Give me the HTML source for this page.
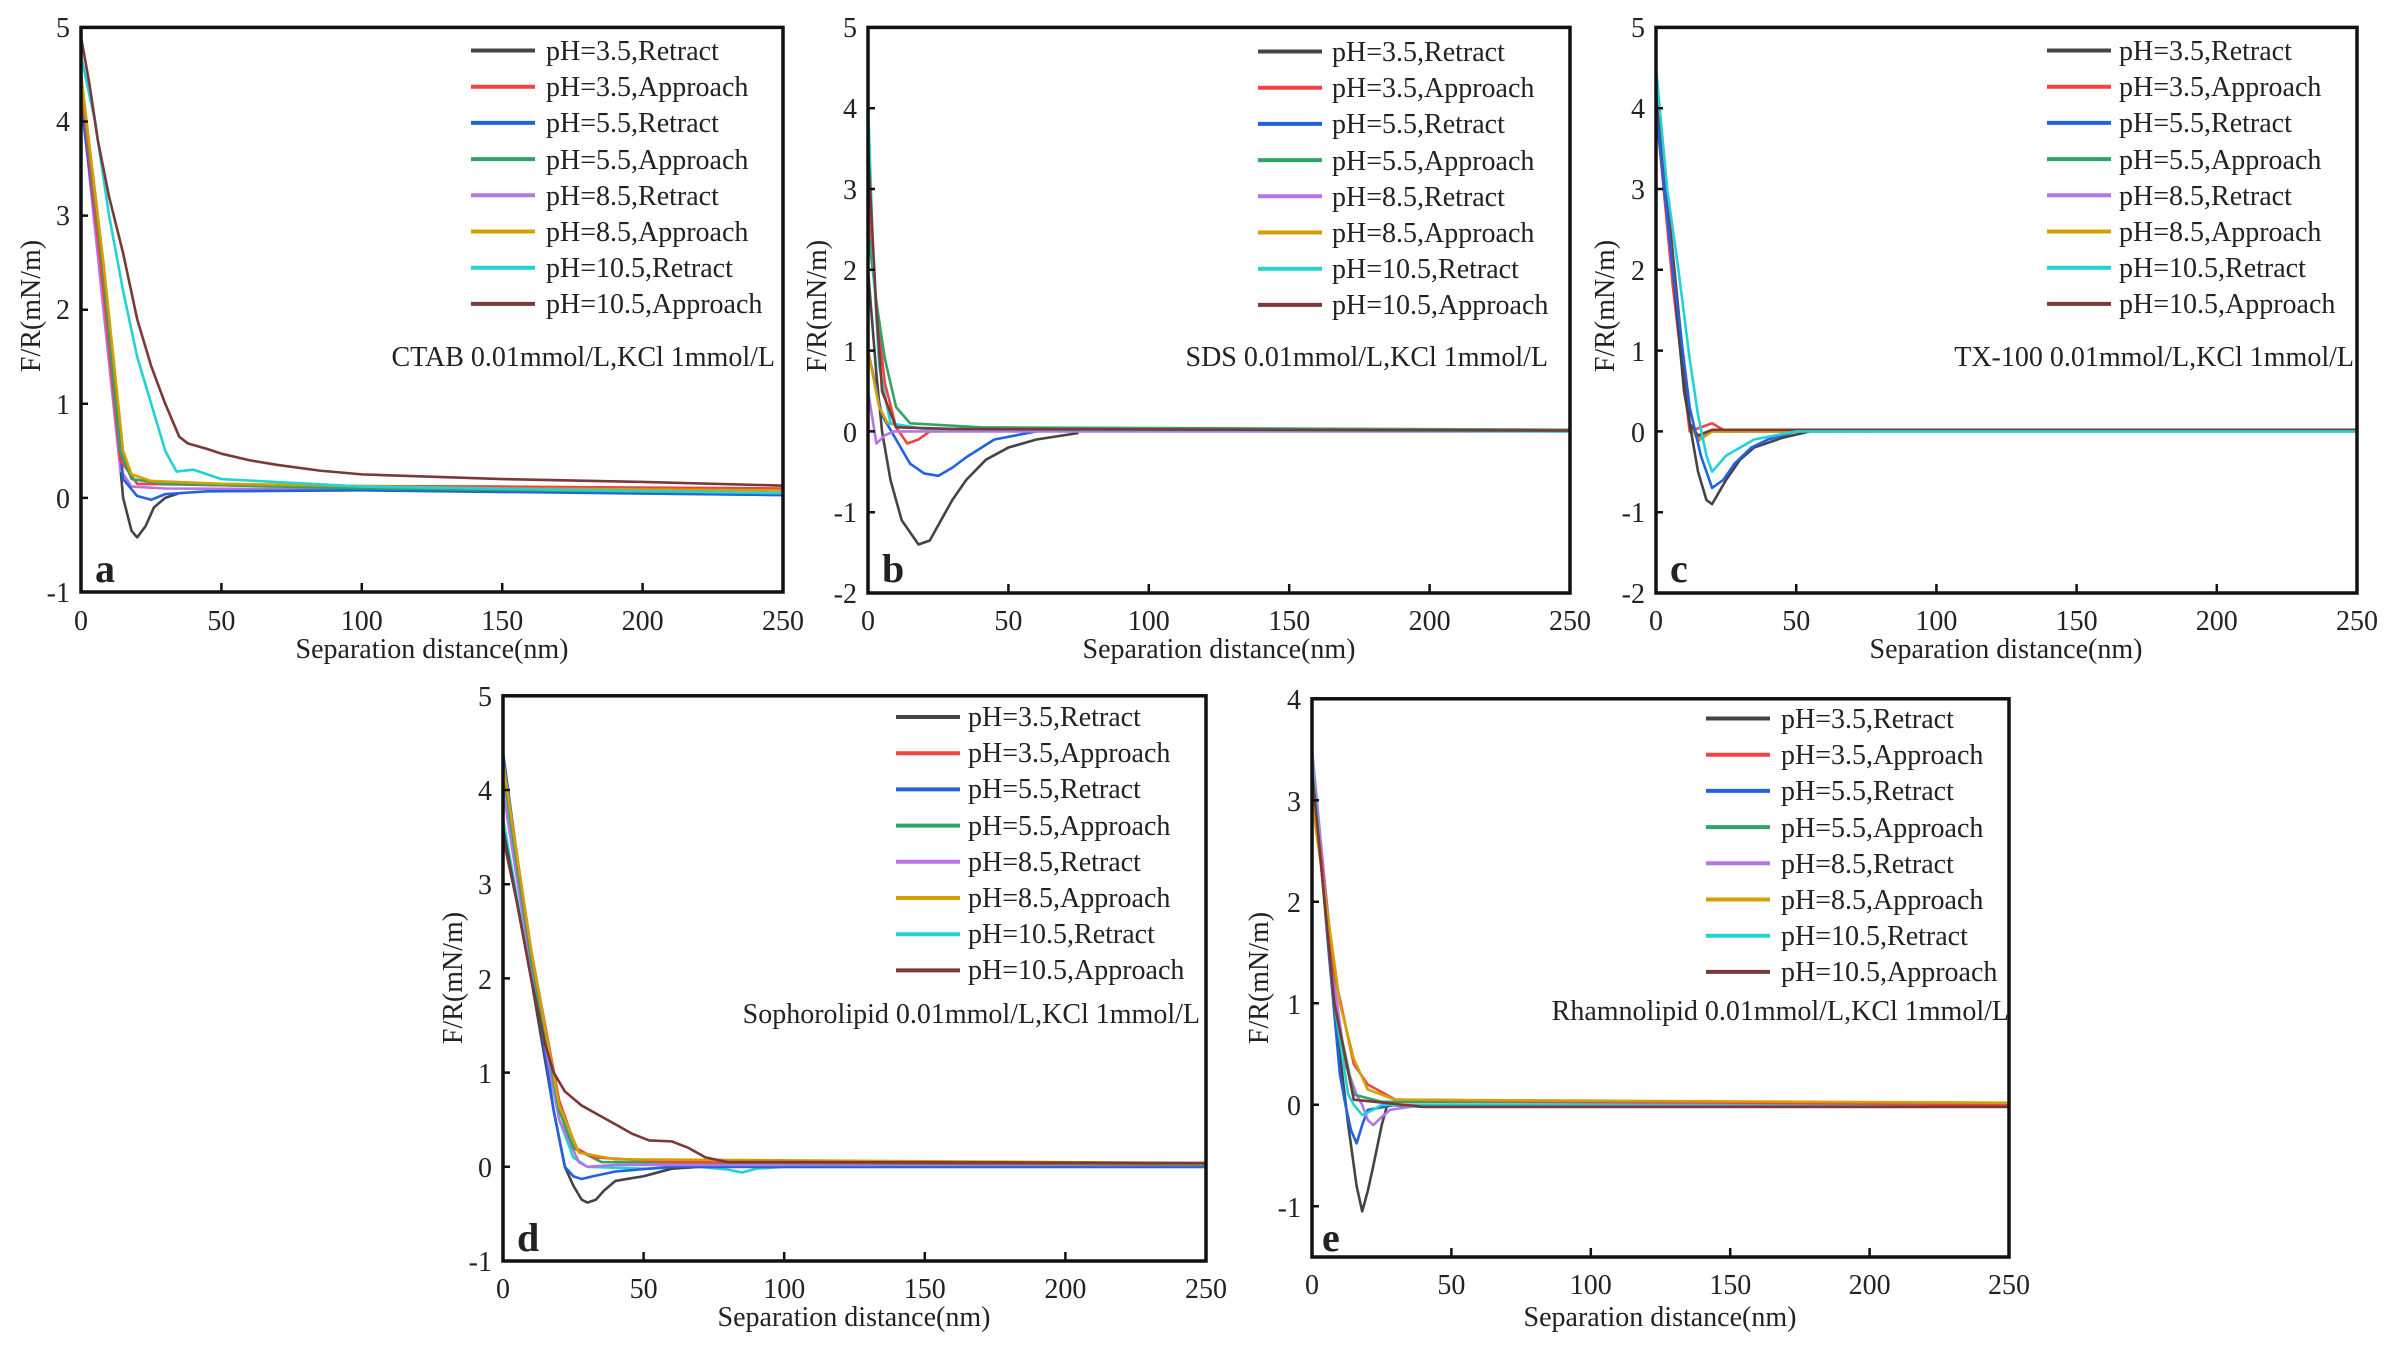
<!DOCTYPE html>
<html><head><meta charset="utf-8"><style>
html,body{margin:0;padding:0;background:#fff}
svg{display:block}
text{font-family:"Liberation Serif",serif;fill:#222}
.t{font-size:28px}
.lg{font-size:28px}
.c polyline{fill:none;stroke-width:2.6;vector-effect:non-scaling-stroke;stroke-linejoin:round}
.ax{fill:none;stroke:#111;stroke-width:3.5}
.tk{stroke:#111;stroke-width:2.5}
.k{stroke:#444}.r{stroke:#f04444}.b{stroke:#2262e0}.g{stroke:#2fa466}.p{stroke:#b575e6}.o{stroke:#d4a000}.cy{stroke:#22d3d3}.br{stroke:#7a3838}
</style></head><body>
<svg width="2385" height="1346" viewBox="0 0 2385 1346" xmlns="http://www.w3.org/2000/svg">
<rect width="2385" height="1346" fill="#fff"/>

<!-- ================= Panel a ================= -->
<g class="c" transform="translate(81,497.9) scale(2.808,-94.1)">
<polyline class="k" points="0,4.3 6,2.6 12,1 15,0 18,-0.35 20,-0.42 23,-0.3 26,-0.1 30,0 35,0.05"/>
<polyline class="p" points="0,4.3 8,2 14,0.3 18,0.12 30,0.1 100,0.09 250,0.03"/>
<polyline class="b" points="0,4.2 10,1.8 15,0.2 20,0.02 25,-0.02 30,0.04 45,0.07 100,0.08 250,0.03"/>
<polyline class="r" points="0,4.4 8,2.2 14,0.4 20,0.15 60,0.13 150,0.12 250,0.1"/>
<polyline class="g" points="0,4.5 8,2.4 14,0.5 18,0.2 30,0.15 100,0.1 250,0.05"/>
<polyline class="o" points="0,4.5 8,2.5 15,0.5 18,0.25 25,0.18 50,0.15 150,0.1 250,0.08"/>
<polyline class="cy" points="0,4.7 5,4 10,3 15,2.2 20,1.5 25,1 30,0.5 34,0.28 40,0.3 45,0.25 50,0.2 100,0.12 250,0.05"/>
<polyline class="br" points="0,4.9 3,4.4 6,3.8 10,3.2 15,2.6 20,1.9 25,1.4 30,1 35,0.65 38,0.58 45,0.52 50,0.47 60,0.4 70,0.35 85,0.29 100,0.25 150,0.2 200,0.17 250,0.13"/>
</g>
<rect class="ax" x="81" y="27.4" width="702" height="564.6"/>
<path class="tk" d="M221.4,592v-9M361.8,592v-9M502.2,592v-9M642.6,592v-9M81,121.5h7M81,215.6h7M81,309.7h7M81,403.8h7M81,497.9h7"/>
<g class="t" text-anchor="middle">
<text x="81" y="630">0</text><text x="221.4" y="630">50</text><text x="361.8" y="630">100</text><text x="502.2" y="630">150</text><text x="642.6" y="630">200</text><text x="783" y="630">250</text>
</g>
<g class="t" text-anchor="end">
<text x="70" y="37">5</text><text x="70" y="131">4</text><text x="70" y="225">3</text><text x="70" y="319">2</text><text x="70" y="414">1</text><text x="70" y="508">0</text><text x="70" y="602">-1</text>
</g>
<text class="t" x="432" y="658" text-anchor="middle">Separation distance(nm)</text>
<text class="t" transform="translate(40,306) rotate(-90)" text-anchor="middle">F/R(mN/m)</text>
<text x="95" y="582" font-size="40" font-weight="bold">a</text>
<text class="t" x="775" y="366" text-anchor="end">CTAB 0.01mmol/L,KCl 1mmol/L</text>

<!-- ================= Panel b ================= -->
<g class="c" transform="translate(868,431.4) scale(2.808,-80.8)">
<polyline class="k" points="0,2 3,0.7 5,0 8,-0.6 12,-1.1 18,-1.4 22,-1.35 26,-1.1 30,-0.85 35,-0.6 42,-0.35 50,-0.2 60,-0.1 75,-0.02"/>
<polyline class="b" points="0,1 5,0.2 10,-0.1 15,-0.4 20,-0.52 25,-0.55 30,-0.45 35,-0.32 45,-0.1 60,0"/>
<polyline class="r" points="0,3 3,1.5 6,0.6 10,0.05 14,-0.15 18,-0.1 22,0 60,0.02 250,0.02"/>
<polyline class="g" points="0,2.5 3,1.6 6,0.9 10,0.3 15,0.1 40,0.05 250,0.02"/>
<polyline class="p" points="0,0.5 3,-0.15 6,-0.05 9,0 250,0"/>
<polyline class="o" points="0,1 4,0.3 7,0.1 20,0.03 250,0.01"/>
<polyline class="cy" points="0,4.1 2,2 4,0.8 8,0.1 20,0.03 250,0"/>
<polyline class="br" points="0,3.5 3,1.5 5,0.5 10,0.05 30,0.03 250,0.01"/>
</g>
<rect class="ax" x="868" y="27.4" width="702" height="565.6"/>
<path class="tk" d="M1008.4,593v-9M1148.8,593v-9M1289.2,593v-9M1429.6,593v-9M868,108.2h7M868,189h7M868,269.8h7M868,350.6h7M868,431.4h7M868,512.2h7"/>
<g class="t" text-anchor="middle">
<text x="868" y="630">0</text><text x="1008.4" y="630">50</text><text x="1148.8" y="630">100</text><text x="1289.2" y="630">150</text><text x="1429.6" y="630">200</text><text x="1570" y="630">250</text>
</g>
<g class="t" text-anchor="end">
<text x="857" y="37">5</text><text x="857" y="118">4</text><text x="857" y="199">3</text><text x="857" y="280">2</text><text x="857" y="361">1</text><text x="857" y="442">0</text><text x="857" y="522">-1</text><text x="857" y="603">-2</text>
</g>
<text class="t" x="1219" y="658" text-anchor="middle">Separation distance(nm)</text>
<text class="t" transform="translate(826,306) rotate(-90)" text-anchor="middle">F/R(mN/m)</text>
<text x="882" y="582" font-size="40" font-weight="bold">b</text>
<text class="t" x="1548" y="366" text-anchor="end">SDS 0.01mmol/L,KCl 1mmol/L</text>

<!-- ================= Panel c ================= -->
<g class="c" transform="translate(1656,431.4) scale(2.804,-80.8)">
<polyline class="r" points="0,4 6,1.8 12,0 16,0.05 20,0.1 25,0 250,0"/>
<polyline class="g" points="0,4.1 6,2 12,0.1 15,-0.08 20,0 250,0.01"/>
<polyline class="p" points="0,4.1 6,2 12,0.1 15,-0.1 20,0 250,0"/>
<polyline class="o" points="0,4.2 6,2.1 12,0.1 15,-0.12 20,0 250,0.01"/>
<polyline class="br" points="0,4.3 6,2.2 12,0.1 15,-0.05 20,0.02 250,0.02"/>
<polyline class="k" points="0,4 6,2 10,0.5 15,-0.5 18,-0.85 20,-0.9 25,-0.6 30,-0.35 35,-0.2 45,-0.08 55,0"/>
<polyline class="b" points="0,4 6,2 12,0.3 16,-0.3 20,-0.7 24,-0.6 28,-0.4 34,-0.2 40,-0.1 50,0"/>
<polyline class="cy" points="0,4.5 4,3 8,2 12,0.9 15,0.2 18,-0.3 20,-0.5 25,-0.3 35,-0.1 50,0 250,0"/>
</g>
<rect class="ax" x="1656" y="27.4" width="701" height="565.6"/>
<path class="tk" d="M1796.2,593v-9M1936.4,593v-9M2076.6,593v-9M2216.8,593v-9M1656,108.2h7M1656,189h7M1656,269.8h7M1656,350.6h7M1656,431.4h7M1656,512.2h7"/>
<g class="t" text-anchor="middle">
<text x="1656" y="630">0</text><text x="1796.2" y="630">50</text><text x="1936.4" y="630">100</text><text x="2076.6" y="630">150</text><text x="2216.8" y="630">200</text><text x="2357" y="630">250</text>
</g>
<g class="t" text-anchor="end">
<text x="1645" y="37">5</text><text x="1645" y="118">4</text><text x="1645" y="199">3</text><text x="1645" y="280">2</text><text x="1645" y="361">1</text><text x="1645" y="442">0</text><text x="1645" y="522">-1</text><text x="1645" y="603">-2</text>
</g>
<text class="t" x="2006" y="658" text-anchor="middle">Separation distance(nm)</text>
<text class="t" transform="translate(1614,306) rotate(-90)" text-anchor="middle">F/R(mN/m)</text>
<text x="1670" y="582" font-size="40" font-weight="bold">c</text>
<text class="t" x="2354" y="366" text-anchor="end">TX-100 0.01mmol/L,KCl 1mmol/L</text>

<!-- ================= Panel d ================= -->
<g class="c" transform="translate(503,1166.8) scale(2.812,-94.2)">
<polyline class="cy" points="0,3.7 10,2 20,0.5 25,0.1 30,0 50,-0.02 70,0 80,-0.03 85,-0.06 90,-0.02 100,0 250,0"/>
<polyline class="k" points="0,3.6 10,2 18,0.6 22,0 25,-0.2 28,-0.35 30,-0.38 33,-0.35 36,-0.25 40,-0.15 50,-0.1 60,-0.02 70,0 250,0"/>
<polyline class="b" points="0,4.4 10,2.2 18,0.6 22,0 25,-0.1 28,-0.13 32,-0.1 40,-0.05 60,0 250,0"/>
<polyline class="p" points="0,4 10,2.1 20,0.5 27,0.05 30,0 40,0.02 250,0.02"/>
<polyline class="g" points="0,4.2 10,2.2 20,0.6 25,0.2 35,0.05 250,0.02"/>
<polyline class="r" points="0,4.3 10,2.3 20,0.7 26,0.2 32,0.1 60,0.05 250,0.03"/>
<polyline class="o" points="0,4.3 10,2.3 20,0.65 27,0.15 40,0.08 250,0.04"/>
<polyline class="br" points="0,3.5 5,2.8 10,2 15,1.3 18,1 22,0.8 28,0.65 34,0.55 40,0.45 46,0.35 52,0.28 60,0.27 66,0.2 72,0.1 80,0.05 100,0.05 250,0.04"/>
</g>
<rect class="ax" x="503" y="695.8" width="703" height="565.2"/>
<path class="tk" d="M643.6,1261v-9M784.2,1261v-9M924.8,1261v-9M1065.4,1261v-9M503,790h7M503,884.2h7M503,978.4h7M503,1072.6h7M503,1166.8h7"/>
<g class="t" text-anchor="middle">
<text x="503" y="1298">0</text><text x="643.6" y="1298">50</text><text x="784.2" y="1298">100</text><text x="924.8" y="1298">150</text><text x="1065.4" y="1298">200</text><text x="1206" y="1298">250</text>
</g>
<g class="t" text-anchor="end">
<text x="492" y="706">5</text><text x="492" y="800">4</text><text x="492" y="894">3</text><text x="492" y="989">2</text><text x="492" y="1083">1</text><text x="492" y="1177">0</text><text x="492" y="1271">-1</text>
</g>
<text class="t" x="854" y="1326" text-anchor="middle">Separation distance(nm)</text>
<text class="t" transform="translate(462,978) rotate(-90)" text-anchor="middle">F/R(mN/m)</text>
<text x="517" y="1251" font-size="40" font-weight="bold">d</text>
<text class="t" x="1200" y="1023" text-anchor="end">Sophorolipid 0.01mmol/L,KCl 1mmol/L</text>

<!-- ================= Panel e ================= -->
<g class="c" transform="translate(1312,1104.8) scale(2.788,-101.5)">
<polyline class="k" points="0,3.4 6,1.8 10,0.5 13,-0.2 16,-0.8 18,-1.05 20,-0.85 22,-0.6 25,-0.2 27,0 40,-0.02 250,-0.02"/>
<polyline class="b" points="0,3.4 6,1.5 10,0.3 12,0 14,-0.25 16,-0.38 18,-0.2 20,-0.05 30,0 250,0"/>
<polyline class="p" points="0,3.5 8,1.2 12,0.4 16,0.1 18,0 20,-0.15 22,-0.2 25,-0.12 28,-0.05 40,0 250,0"/>
<polyline class="cy" points="0,3.4 8,1 13,0.1 15,0 18,-0.1 22,-0.05 25,0 250,-0.02"/>
<polyline class="g" points="0,3.3 8,1 15,0.1 25,0.03 250,0.02"/>
<polyline class="r" points="0,3.2 8,1.3 15,0.4 20,0.2 30,0.05 250,0"/>
<polyline class="o" points="0,3 5,2 10,1 15,0.45 20,0.15 30,0.05 250,0.02"/>
<polyline class="br" points="0,3.3 8,1 15,0.05 40,-0.02 250,-0.02"/>
</g>
<rect class="ax" x="1312" y="698.8" width="697" height="558.2"/>
<path class="tk" d="M1451.4,1257v-9M1590.8,1257v-9M1730.2,1257v-9M1869.6,1257v-9M1312,800.3h7M1312,901.8h7M1312,1003.3h7M1312,1104.8h7M1312,1206.3h7"/>
<g class="t" text-anchor="middle">
<text x="1312" y="1294">0</text><text x="1451.4" y="1294">50</text><text x="1590.8" y="1294">100</text><text x="1730.2" y="1294">150</text><text x="1869.6" y="1294">200</text><text x="2009" y="1294">250</text>
</g>
<g class="t" text-anchor="end">
<text x="1301" y="709">4</text><text x="1301" y="811">3</text><text x="1301" y="912">2</text><text x="1301" y="1014">1</text><text x="1301" y="1115">0</text><text x="1301" y="1217">-1</text>
</g>
<text class="t" x="1660" y="1326" text-anchor="middle">Separation distance(nm)</text>
<text class="t" transform="translate(1268,978) rotate(-90)" text-anchor="middle">F/R(mN/m)</text>
<text x="1322" y="1251" font-size="40" font-weight="bold">e</text>
<text class="t" x="2009" y="1020" text-anchor="end">Rhamnolipid 0.01mmol/L,KCl 1mmol/L</text>

<!-- ================= Legends ================= -->
<defs>
<g id="leg">
<line x1="0" y1="0" x2="64" y2="0" stroke="#444" stroke-width="4"/>
<line x1="0" y1="36.2" x2="64" y2="36.2" stroke="#f04444" stroke-width="4"/>
<line x1="0" y1="72.4" x2="64" y2="72.4" stroke="#2262e0" stroke-width="4"/>
<line x1="0" y1="108.6" x2="64" y2="108.6" stroke="#2fa466" stroke-width="4"/>
<line x1="0" y1="144.8" x2="64" y2="144.8" stroke="#b575e6" stroke-width="4"/>
<line x1="0" y1="181" x2="64" y2="181" stroke="#d4a000" stroke-width="4"/>
<line x1="0" y1="217.2" x2="64" y2="217.2" stroke="#22d3d3" stroke-width="4"/>
<line x1="0" y1="253.4" x2="64" y2="253.4" stroke="#7a3838" stroke-width="4"/>
</g>
</defs>
<use href="#leg" x="471" y="50.5"/>
<use href="#leg" x="1258" y="51.5"/>
<use href="#leg" x="2047" y="50.5"/>
<use href="#leg" x="896" y="717"/>
<use href="#leg" x="1706" y="718.5"/>

<g class="lg">
<text x="546" y="60">pH=3.5,Retract</text><text x="546" y="96">pH=3.5,Approach</text><text x="546" y="132">pH=5.5,Retract</text><text x="546" y="169">pH=5.5,Approach</text><text x="546" y="205">pH=8.5,Retract</text><text x="546" y="241">pH=8.5,Approach</text><text x="546" y="277">pH=10.5,Retract</text><text x="546" y="313">pH=10.5,Approach</text>
<text x="1332" y="61">pH=3.5,Retract</text><text x="1332" y="97">pH=3.5,Approach</text><text x="1332" y="133">pH=5.5,Retract</text><text x="1332" y="170">pH=5.5,Approach</text><text x="1332" y="206">pH=8.5,Retract</text><text x="1332" y="242">pH=8.5,Approach</text><text x="1332" y="278">pH=10.5,Retract</text><text x="1332" y="314">pH=10.5,Approach</text>
<text x="2119" y="60">pH=3.5,Retract</text><text x="2119" y="96">pH=3.5,Approach</text><text x="2119" y="132">pH=5.5,Retract</text><text x="2119" y="169">pH=5.5,Approach</text><text x="2119" y="205">pH=8.5,Retract</text><text x="2119" y="241">pH=8.5,Approach</text><text x="2119" y="277">pH=10.5,Retract</text><text x="2119" y="313">pH=10.5,Approach</text>
<text x="968" y="726">pH=3.5,Retract</text><text x="968" y="762">pH=3.5,Approach</text><text x="968" y="798">pH=5.5,Retract</text><text x="968" y="835">pH=5.5,Approach</text><text x="968" y="871">pH=8.5,Retract</text><text x="968" y="907">pH=8.5,Approach</text><text x="968" y="943">pH=10.5,Retract</text><text x="968" y="979">pH=10.5,Approach</text>
<text x="1781" y="728">pH=3.5,Retract</text><text x="1781" y="764">pH=3.5,Approach</text><text x="1781" y="800">pH=5.5,Retract</text><text x="1781" y="837">pH=5.5,Approach</text><text x="1781" y="873">pH=8.5,Retract</text><text x="1781" y="909">pH=8.5,Approach</text><text x="1781" y="945">pH=10.5,Retract</text><text x="1781" y="981">pH=10.5,Approach</text>
</g>
</svg>
</body></html>
